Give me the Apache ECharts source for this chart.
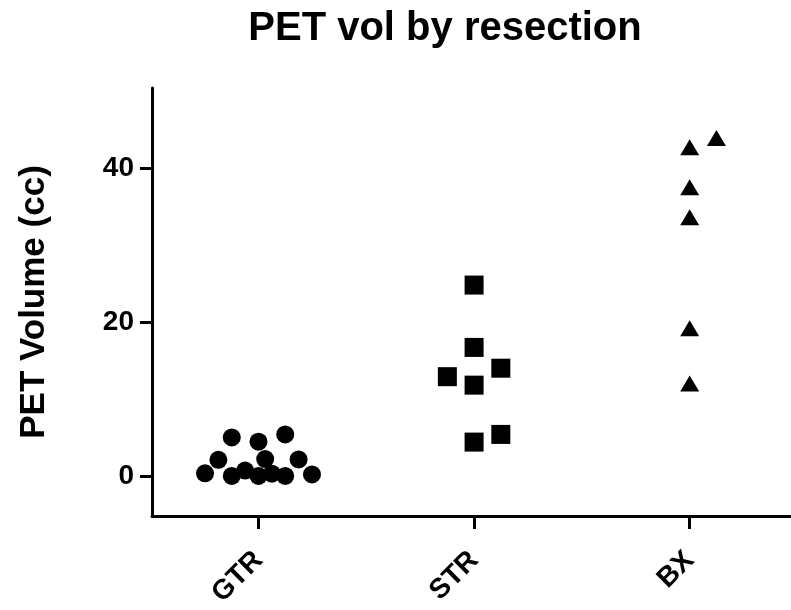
<!DOCTYPE html>
<html>
<head>
<meta charset="utf-8">
<script src="https://cdn.jsdelivr.net/npm/echarts@6/dist/echarts.min.js"></script>
<style>html,body{margin:0;padding:0;background:#fff}#c{width:791px;height:610px}</style>
</head>
<body>
<div id="c"></div>
<script>
const categories = ['GTR', 'STR', 'BX'];
const yTicks = [0, 20, 40];

// values (cc)
const gtrValues = [5.0, 4.45, 5.4, 2.1, 2.2, 2.15, 0.35, 0.2, 0.0, 0.7, 0.0, 0.3, 0.0];
const strValues = [24.8, 16.7, 14.0, 12.9, 11.8, 4.4, 5.4];
const bxValues  = [43.9, 42.7, 37.5, 33.6, 19.2, 12.0];

// column-scatter slot of each point (side-by-side placement within a column)
const gtrSlots = [-2, 0, 2, -3, 0.5, 3, -4, 4, -2, -1, 0, 1, 2];
const strSlots = [0, 0, 2, -2, 0, 0, 2];
const bxSlots  = [2, 0, 0, 0, 0, 0];

const SLOT = 0.062;
function build(ci, vals, slots) {
  return vals.map((v, i) => [ci + 1 + slots[i] * SLOT, v]);
}

const font = 'Liberation Sans, Arial, sans-serif';
const chart = echarts.init(document.getElementById('c'), null, {renderer: 'canvas'});
chart.setOption({
  animation: false,
  backgroundColor: '#fff',
  title: {
    text: 'PET vol by resection',
    left: 440, top: 4, textAlign: 'center',
    textStyle: {fontFamily: font, fontSize: 40, fontWeight: 'bold', color: '#000'}
  },
  grid: {left: 152, right: 0, top: 88, bottom: 94},
  xAxis: {
    type: 'value', min: 0.506, max: 3.47,
    splitLine: {show: false},
    axisLine: {onZero: false, lineStyle: {color: '#000', width: 3}},
    axisTick: {customValues: [1, 2, 3], length: 13, lineStyle: {color: '#000', width: 3}},
    axisLabel: {
      customValues: [1, 2, 3],
      formatter: v => categories[Math.round(v) - 1] || '',
      rotate: 45, margin: 40,
      fontFamily: font, fontSize: 28, fontWeight: 'bold', color: '#000'
    }
  },
  yAxis: {
    type: 'value', min: -5.2, max: 50.4,
    splitLine: {show: false},
    name: 'PET Volume (cc)', nameLocation: 'middle', nameGap: 100,
    nameTextStyle: {fontFamily: font, fontSize: 35, fontWeight: 'bold', color: '#000'},
    axisLine: {show: true, onZero: false, lineStyle: {color: '#000', width: 3}},
    axisTick: {show: true, customValues: yTicks, length: 12, lineStyle: {color: '#000', width: 3}},
    axisLabel: {
      customValues: yTicks, margin: 18,
      fontFamily: font, fontSize: 28, fontWeight: 'bold', color: '#000'
    }
  },
  series: [
    {type: 'scatter', symbol: 'circle', symbolSize: 18, itemStyle: {color: '#000', opacity: 1}, data: build(0, gtrValues, gtrSlots)},
    {type: 'scatter', symbol: 'rect', symbolSize: 19, itemStyle: {color: '#000', opacity: 1}, data: build(1, strValues, strSlots)},
    {type: 'scatter', symbol: 'triangle', symbolSize: [19, 16], itemStyle: {color: '#000', opacity: 1}, data: build(2, bxValues, bxSlots)}
  ]
});
</script>
</body>
</html>
